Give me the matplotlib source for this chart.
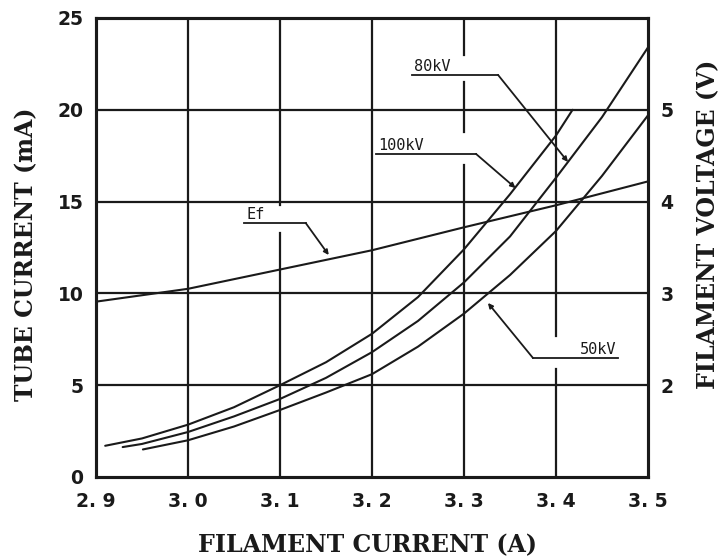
import matplotlib
matplotlib.use("Agg")
import matplotlib.pyplot as plt
import numpy as np

# ── data ──
# tube current (mA) vs filament current (A)
i_100kv = [2.91, 2.95, 3.00, 3.05, 3.10, 3.15, 3.20, 3.25, 3.30, 3.35, 3.40, 3.418]
ma_100kv = [1.7, 2.1, 2.85, 3.8, 5.0, 6.25, 7.8, 9.8, 12.4, 15.4, 18.6, 20.0]

i_80kv = [2.929, 2.95, 3.00, 3.05, 3.10, 3.15, 3.20, 3.25, 3.30, 3.35, 3.40, 3.45, 3.50]
ma_80kv = [1.63, 1.8, 2.45, 3.3, 4.25, 5.4, 6.8, 8.5, 10.6, 13.1, 16.3, 19.6, 23.4]

i_50kv = [2.951, 3.00, 3.05, 3.10, 3.15, 3.20, 3.25, 3.30, 3.35, 3.40, 3.45, 3.50]
ma_50kv = [1.5, 2.0, 2.75, 3.65, 4.6, 5.6, 7.1, 8.9, 11.0, 13.4, 16.4, 19.7]

# filament voltage Ef (V), right axis
i_ef = [2.90, 3.00, 3.10, 3.20, 3.30, 3.40, 3.50]
v_ef = [2.91, 3.05, 3.26, 3.47, 3.72, 3.96, 4.22]

x_ticks = [2.9, 3.0, 3.1, 3.2, 3.3, 3.4, 3.5]
x_labels = ["2. 9", "3. 0", "3. 1", "3. 2", "3. 3", "3. 4", "3. 5"]
y_ticks = [0, 5, 10, 15, 20, 25]
v_ticks = [2, 3, 4, 5]

INK = "#1a1a1a"
TICK_FONT = dict(family="DejaVu Sans", weight="bold", size=13.5, color=INK)
LABEL_FONT = dict(family="DejaVu Serif", weight="bold", size=17, color=INK)

fig = plt.figure(figsize=(7.25, 5.59), dpi=100)
ax = fig.add_axes([0.1324, 0.1467, 0.7614, 0.8211])
ax2 = ax.twinx()

ax.set_xlim(2.9, 3.5)
ax.set_ylim(0, 25)
ax2.set_ylim(1, 6)   # 5 V sits on the 20 mA line

# ── grid, drawn by hand because the original has gaps next to the labels ──
grid_kw = dict(color=INK, lw=1.6, zorder=1)
v_grid = {3.0: [(0, 25)], 3.1: [(0, 13.3), (14.8, 25)], 3.2: [(0, 25)],
          3.3: [(0, 17.0), (18.8, 21.5), (23.0, 25)], 3.4: [(0, 5.9), (7.7, 25)]}
for xv, segs in v_grid.items():
    for lo, hi in segs:
        ax.plot([xv, xv], [lo, hi], **grid_kw)
for yv in [5, 10, 15, 20]:
    ax.plot([2.9, 3.5], [yv, yv], **grid_kw)

# ── curves ──
curve_kw = dict(color=INK, lw=1.5, solid_capstyle="round",
                solid_joinstyle="round", zorder=3)
ax.plot(i_100kv, ma_100kv, **curve_kw)
ax.plot(i_80kv, ma_80kv, **curve_kw)
ax.plot(i_50kv, ma_50kv, **curve_kw)
ax2.plot(i_ef, v_ef, **curve_kw)

# ── leader labels ──
def leader(pts, text, tx, ty, ha="left"):
    xs = [p[0] for p in pts]
    ys = [p[1] for p in pts]
    ax.plot(xs[:-1], ys[:-1], color=INK, lw=1.3, zorder=4)
    ax.annotate("", xy=pts[-1], xytext=pts[-2],
                arrowprops=dict(arrowstyle="-|>", color=INK, lw=1.3,
                                mutation_scale=7, shrinkA=0, shrinkB=0), zorder=4)
    ax.text(tx, ty, text, ha=ha, va="bottom", fontsize=11,
            family="DejaVu Sans Mono", color=INK, zorder=4)

leader([(3.061, 13.83), (3.128, 13.83), (3.153, 12.09)], "Ef", 3.064, 13.9)
leader([(3.244, 21.9), (3.337, 21.9), (3.413, 17.16)], "80kV", 3.246, 21.95)
leader([(3.204, 17.6), (3.313, 17.6), (3.356, 15.74)], "100kV", 3.207, 17.65)
leader([(3.467, 6.48), (3.375, 6.48), (3.326, 9.48)], "50kV", 3.466, 6.53, ha="right")

# ── axes cosmetics ──
for a in (ax, ax2):
    for s in a.spines.values():
        s.set_linewidth(2.2)
        s.set_color(INK)

ax.set_xticks(x_ticks)
ax.set_xticklabels(x_labels, fontdict=TICK_FONT)
ax.set_yticks(y_ticks)
ax.set_yticklabels([str(v) for v in y_ticks], fontdict=TICK_FONT)
ax2.set_yticks(v_ticks)
ax2.set_yticklabels([str(v) for v in v_ticks], fontdict=TICK_FONT)
ax.tick_params(axis="x", length=0, pad=11)
ax.tick_params(axis="y", length=0, pad=9)
ax2.tick_params(axis="y", length=0, pad=9)

fig.text(0.507, 0.025, "FILAMENT CURRENT (A)", ha="center", va="center", **LABEL_FONT)
fig.text(0.036, 0.545, "TUBE CURRENT (mA)", ha="center", va="center",
         rotation=90, **LABEL_FONT)
fig.text(0.977, 0.598, "FILAMENT VOLTAGE (V)", ha="center", va="center",
         rotation=90, **LABEL_FONT)

fig.savefig("out.png", dpi=100)
